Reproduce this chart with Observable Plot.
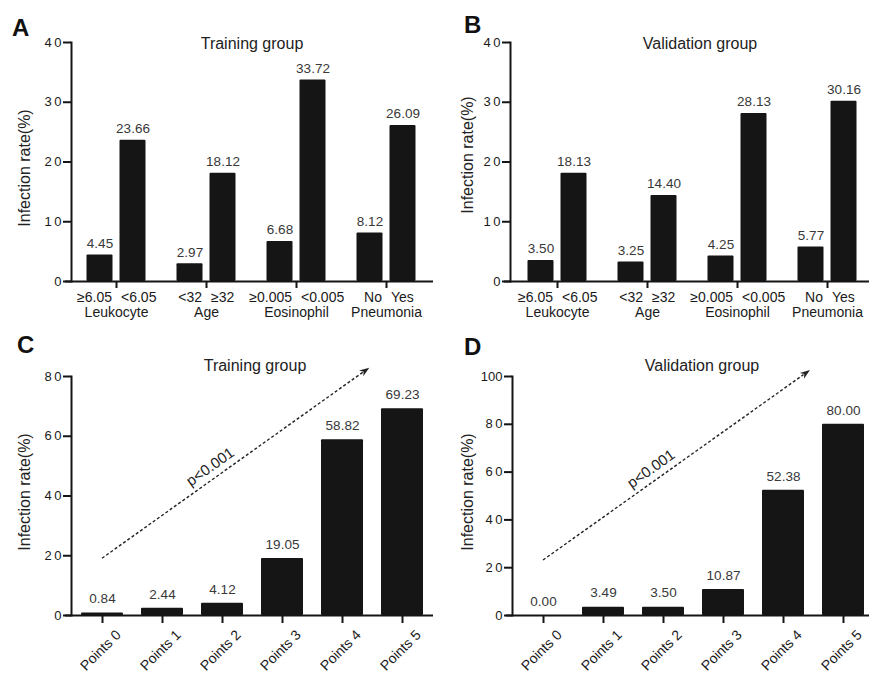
<!DOCTYPE html>
<html><head><meta charset="utf-8">
<script src="https://cdn.jsdelivr.net/npm/d3@7"></script>
<script src="https://cdn.jsdelivr.net/npm/@observablehq/plot@0.6"></script>
<style>
body{margin:0;background:#fff;}
#wrap{position:relative;width:869px;height:675px;font-family:"Liberation Sans",Arial,sans-serif;overflow:hidden;background:#fff;}
.panel{position:absolute;}
.letter{position:absolute;font-weight:bold;font-size:24px;line-height:24px;color:#111;}
.title{position:absolute;font-size:16px;line-height:16px;color:#222;transform:translateX(-50%);white-space:nowrap;}
</style></head><body><div id="wrap"></div>
<script>
// ---- data ----
const groups = ["Leukocyte", "Age", "Eosinophil", "Pneumonia"];
const subLabels1 = ["≥6.05", "<32", "≥0.005", "No"];
const subLabels2 = ["<6.05", "≥32", "<0.005", "Yes"];
const trainFirst = [4.45, 2.97, 6.68, 8.12];
const trainSecond = [23.66, 18.12, 33.72, 26.09];
const validFirst = [3.50, 3.25, 4.25, 5.77];
const validSecond = [18.13, 14.40, 28.13, 30.16];
const points = ["Points 0", "Points 1", "Points 2", "Points 3", "Points 4", "Points 5"];
const trainPoints = [0.84, 2.44, 4.12, 19.05, 58.82, 69.23];
const validPoints = [0.00, 3.49, 3.50, 10.87, 52.38, 80.00];
const ticksAB = [0, 10, 20, 30, 40];
const ticksC = [0, 20, 40, 60, 80];
const ticksD = [0, 20, 40, 60, 80, 100];
const trendLabel = "p<0.001";
// trend arrow ends: [category, extra band steps, value]
const trendC = {start: ["Points 0", 0, 19.0], end: ["Points 4", 0.455, 82.8]};
const trendD = {start: ["Points 0", 0, 23.0], end: ["Points 4", 0.45, 102.5]};
const yLabel = "Infection rate(%)";

const FONT = "Liberation Sans, Arial, sans-serif";
const INK = "#151515";
const fmtY = d => { const s = String(d); return s.length === 2 ? s.split("").join("\u2009") : s; };

// enforce tick-label font sizes with inline styles
function styleAxes(svg, yTicks, yFont, xLabels, xFont) {
  const yStr = new Set(yTicks.map(fmtY));
  const xStr = new Set(xLabels);
  d3.select(svg).selectAll("text").each(function () {
    const t = this.textContent;
    if (yStr.has(t)) this.style.fontSize = yFont + "px";
    else if (xStr.has(t)) this.style.fontSize = xFont + "px";
  });
  return svg;
}

function groupedChart({first, second, width, height, marginLeft, marginTop, marginBottom, xRange, ruleRight, labelDx, labelDy}) {
  const d1 = groups.map((g, i) => ({group: g, sub: subLabels1[i], v: first[i]}));
  const d2 = groups.map((g, i) => ({group: g, sub: subLabels2[i], v: second[i]}));
  const svg = Plot.plot({
    width, height, marginLeft, marginRight: 0, marginTop, marginBottom,
    style: {fontFamily: FONT, fontSize: "14px", background: "white", overflow: "visible"},
    x: {domain: groups, range: xRange, padding: 0},
    y: {domain: [0, 40]},
    marks: [
      Plot.barY(d1, {x: "group", y: "v", fill: INK, insetLeft: 15.5, insetRight: 48.5, rx: 1}),
      Plot.barY(d2, {x: "group", y: "v", fill: INK, insetLeft: 48.5, insetRight: 15.5, rx: 1}),
      Plot.text(d1, {x: "group", y: "v", text: d => d.v.toFixed(2), dx: -16.5, dy: -11.5, fontSize: 13.5, fill: "#383838"}),
      Plot.text(d2, {x: "group", y: "v", text: d => d.v.toFixed(2), dx: 16.5, dy: -11.5, fontSize: 13.5, fill: "#383838"}),
      Plot.text(d1, {x: "group", y: 0, text: "sub", textAnchor: "end", dx: -4.5, dy: 16, fontSize: 14, fill: "#1a1a1a"}),
      Plot.text(d2, {x: "group", y: 0, text: "sub", textAnchor: "start", dx: 4.5, dy: 16, fontSize: 14, fill: "#1a1a1a"}),
      Plot.ruleY([0], {stroke: INK, strokeWidth: 2, insetLeft: -6, insetRight: ruleRight}),
      Plot.frame({anchor: "left", stroke: INK, strokeWidth: 2}),
      Plot.axisY({ticks: ticksAB, tickSize: 8, tickPadding: 2, tickFormat: fmtY, fontSize: 13, fill: "#1a1a1a", stroke: INK, strokeWidth: 2, label: null}),
      Plot.axisX({tickSize: 7, tickPadding: 19, fontSize: 14, fill: "#1a1a1a", stroke: INK, strokeWidth: 2, label: null}),
      Plot.text([yLabel], {frameAnchor: "left", textAnchor: "middle", rotate: -90, dx: labelDx, dy: labelDy, fontSize: 16, fill: "#222"})
    ]
  });
  return styleAxes(svg, ticksAB, 13, groups, 14);
}

function trendMark(trend) {
  return (index, scales) => {
    const step = scales.x(points[1]) - scales.x(points[0]);
    const bw = scales.x.bandwidth ? scales.x.bandwidth() : 0;
    const X = (c, f) => scales.x(c) + bw / 2 + f * step;
    const x1 = X(trend.start[0], trend.start[1]), y1 = scales.y(trend.start[2]);
    const x2 = X(trend.end[0], trend.end[1]), y2 = scales.y(trend.end[2]);
    const ang = Math.atan2(y2 - y1, x2 - x1);
    const L = 10, W = 3.6;
    const xe = x2 - L * Math.cos(ang), ye = y2 - L * Math.sin(ang);
    const g = d3.create("svg:g");
    g.append("line").attr("x1", x1).attr("y1", y1).attr("x2", xe + 2 * Math.cos(ang)).attr("y2", ye + 2 * Math.sin(ang))
      .attr("stroke", "#222").attr("stroke-width", 1.4).attr("stroke-dasharray", "3,2.2");
    const px = -Math.sin(ang), py = Math.cos(ang);
    g.append("path").attr("d", `M${x2},${y2}L${xe + W * px},${ye + W * py}L${xe + 3 * Math.cos(ang)},${ye + 3 * Math.sin(ang)}L${xe - W * px},${ye - W * py}Z`).attr("fill", "#222");
    const t = 0.43, off = 12;
    const tx = x1 + t * (x2 - x1) + off * Math.sin(ang), ty = y1 + t * (y2 - y1) - off * Math.cos(ang);
    g.append("text").attr("transform", `translate(${tx},${ty}) rotate(${ang * 180 / Math.PI})`)
      .attr("text-anchor", "middle").attr("dy", "0.35em").attr("font-size", 15).attr("fill", "#222").text(trendLabel);
    return g.node();
  };
}

function pointsChart({vals, yMax, ticks, width, height, marginLeft, marginTop, marginBottom, xRange, ruleRight, labelDx, labelDy, trend}) {
  const d = points.map((p, i) => ({p, v: vals[i]}));
  const svg = Plot.plot({
    width, height, marginLeft, marginRight: 0, marginTop, marginBottom,
    style: {fontFamily: FONT, fontSize: "14px", background: "white", overflow: "visible"},
    x: {domain: points, range: xRange, paddingInner: 0.3, paddingOuter: 0.15},
    y: {domain: [0, yMax]},
    marks: [
      Plot.barY(d, {x: "p", y: "v", fill: INK, rx: 1}),
      Plot.text(d, {x: "p", y: "v", text: d => d.v.toFixed(2), dy: -14, fontSize: 13.5, fill: "#383838"}),
      Plot.ruleY([0], {stroke: INK, strokeWidth: 2, insetLeft: -6, insetRight: ruleRight}),
      Plot.frame({anchor: "left", stroke: INK, strokeWidth: 2}),
      Plot.axisY({ticks, tickSize: 8, tickPadding: 2, tickFormat: fmtY, fontSize: 13, fill: "#1a1a1a", stroke: INK, strokeWidth: 2, label: null}),
      Plot.axisX({tickSize: 8, tickFormat: () => "", stroke: INK, strokeWidth: 2, label: null}),
      Plot.axisX({tickSize: 0, tickPadding: 17, tickRotate: -45, dx: 16, fontSize: 14, fill: "#1a1a1a", label: null}),
      Plot.text([yLabel], {frameAnchor: "left", textAnchor: "middle", rotate: -90, dx: labelDx, dy: labelDy, fontSize: 16, fill: "#222"}),
      trendMark(trend)
    ]
  });
  return styleAxes(svg, ticks, 13, points, 14);
}

const wrap = document.getElementById("wrap");
function place(node, left, top) { node.classList.add("panel"); node.style.left = left + "px"; node.style.top = top + "px"; wrap.appendChild(node); }
function addText(cls, txt, left, top) { const el = document.createElement("div"); el.className = cls; el.textContent = txt; el.style.left = left + "px"; el.style.top = top + "px"; wrap.appendChild(el); }

place(groupedChart({first: trainFirst, second: trainSecond, width: 434, height: 335, marginLeft: 71, marginTop: 42, marginBottom: 54, xRange: [71, 431], ruleRight: 1, labelDx: -47, labelDy: 6}), 0, 0);
place(groupedChart({first: validFirst, second: validSecond, width: 435, height: 335, marginLeft: 76, marginTop: 42, marginBottom: 54, xRange: [77.7, 437.7], ruleRight: 0, labelDx: -43, labelDy: -7}), 434, 0);
place(pointsChart({vals: trainPoints, yMax: 80, ticks: ticksC, width: 434, height: 340, marginLeft: 71, marginTop: 41, marginBottom: 60, xRange: [72, 432], ruleRight: 1, labelDx: -47, labelDy: -4, trend: trendC}), 0, 335);
place(pointsChart({vals: validPoints, yMax: 100, ticks: ticksD, width: 435, height: 340, marginLeft: 78, marginTop: 41, marginBottom: 60, xRange: [79, 439], ruleRight: 0, labelDx: -45, labelDy: -4, trend: trendD}), 434, 335);

addText("letter", "A", 12, 15.5);
addText("letter", "B", 464, 12.5);
addText("letter", "C", 17, 333);
addText("letter", "D", 464, 335);
addText("title", "Training group", 252, 35.5);
addText("title", "Validation group", 700, 35.5);
addText("title", "Training group", 255, 357.5);
addText("title", "Validation group", 702, 357.5);
</script></body></html>
